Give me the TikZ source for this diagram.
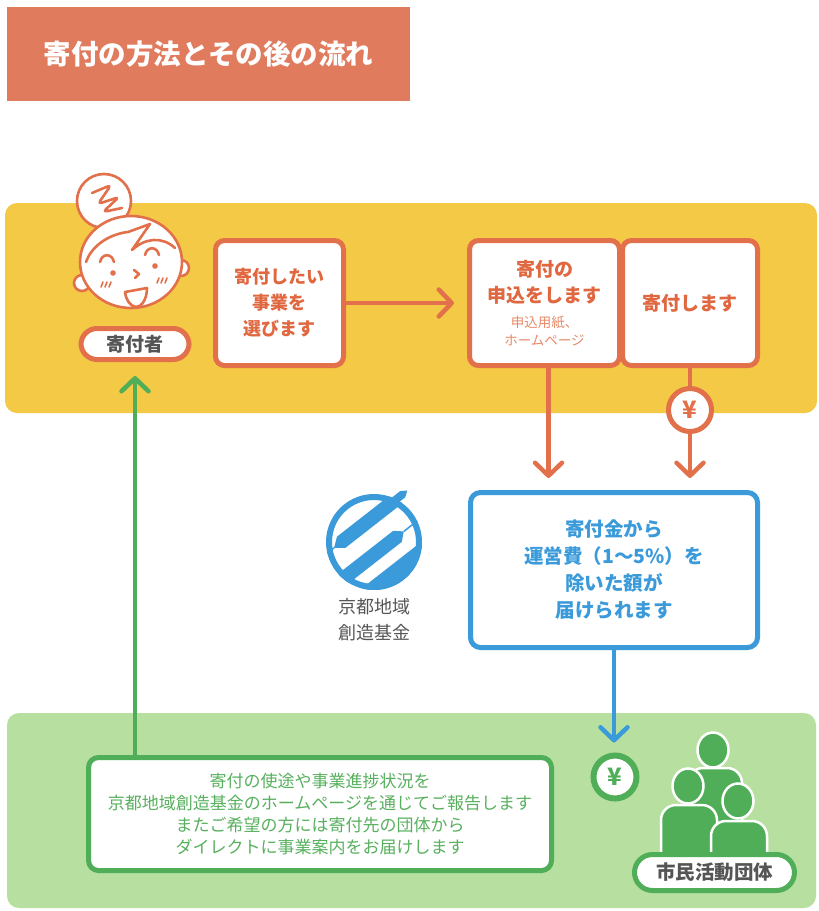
\documentclass[tikz,border=0pt]{standalone}
\usepackage{fontspec}
\setmainfont{Noto Sans CJK JP}
\usetikzlibrary{arrows.meta,calc}

\definecolor{titlebg}{HTML}{E17B5E}
\definecolor{bandY}{HTML}{F4C945}
\definecolor{ora}{HTML}{E2704B}
\definecolor{oratext}{HTML}{E0673F}
\definecolor{orasoft}{HTML}{E88A6A}
\definecolor{blu}{HTML}{3A9ADA}
\definecolor{bandG}{HTML}{B7E0A0}
\definecolor{grn}{HTML}{4FAE57}
\definecolor{grntext}{HTML}{58B05E}
\definecolor{gry}{HTML}{555555}

% small note lines inside the application box
\newcommand\notefont{\fontsize{13.5}{17}\selectfont\mdseries\color{orasoft}}

\begin{document}
\begin{tikzpicture}[x=1pt,y=-1pt,
  obox/.style={draw=ora, line width=5pt, fill=white, rounded corners=9pt,
    align=center, inner sep=0pt, text=oratext,
    font=\bfseries\fontsize{19}{26}\selectfont},
  pill/.style={fill=white, line width=5pt, rounded corners=16pt, inner sep=0pt,
    text=gry, font=\bfseries\fontsize{19}{22}\selectfont},
  yen/.style={circle, fill=white, line width=5pt, minimum size=43pt,
    inner sep=0pt, font=\bfseries\fontsize{24}{24}\selectfont},
  tipV/.style={-{Straight Barb[length=13pt,width=27pt,round]}},
  oarrow/.style={draw=ora, line width=4.5pt, tipV},
  barrow/.style={draw=blu, line width=4.5pt, tipV},
  garrow/.style={draw=grn, line width=4.5pt, tipV},
]
\useasboundingbox (0,0) rectangle (819,911);
\fill[white] (0,0) rectangle (819,911);

% heading
\node[fill=titlebg, minimum width=403pt, minimum height=94pt, inner sep=0pt,
  text=white, font=\bfseries\fontsize{27.5}{30}\selectfont] (title) at (208.5,54)
  {寄付の方法とその後の流れ};

% coloured bands
\fill[bandY, rounded corners=12pt] (5,203) rectangle (817,413);
\fill[bandG, rounded corners=12pt] (7,713) rectangle (816,908);

% donor face
\begin{scope}[draw=ora, line width=2.6pt, line cap=round, line join=round]
  \filldraw[fill=white] (104,201) circle (27);
  \draw[rounded corners=4pt] (92,193) -- (111,185) -- (98,204) -- (119,197) -- (103,212) -- (122,208);
  \filldraw[fill=white] (82,283) circle (8);
  \filldraw[fill=white] (181,268) circle (8);
  \filldraw[fill=white] (131,262) ellipse (51 and 46);
  \draw (86,262) .. controls (92,245) and (110,234) .. (128,232) -- (150,224)
        -- (132,250) .. controls (145,238) and (162,236) .. (175,248);
  \draw (100,262) .. controls (102,253) and (112,253) .. (114,262);
  \draw (145,255) .. controls (147,246) and (157,246) .. (159,255);
  \fill[ora] (113,273) circle (2.8);
  \fill[ora] (155,266) circle (2.8);
  \draw (134,270) -- (139,274) -- (135,278);
  \filldraw[fill=white] (125,292) -- (147,288)
        .. controls (147,300) and (141,307) .. (136,307)
        .. controls (130,306) and (126,300) .. (125,292) -- cycle;
  \draw[line width=1.6pt] (101,287)--(103,282) (105,287)--(107,282) (109,287)--(111,282);
  \draw[line width=1.6pt] (157,283)--(159,278) (161,283)--(163,278) (165,283)--(167,278);
\end{scope}

\node[pill, draw=ora, minimum width=108pt, minimum height=31pt] (donor) at (135,344) {寄付者};

% steps of the donation
\node[obox, minimum width=128pt, minimum height=125pt,
  font=\bfseries\fontsize{18}{26}\selectfont] (choose) at (279.5,303)
  {寄付したい\\事業を\\選びます};
\node[obox, minimum width=150pt, minimum height=125pt] (apply) at (544.5,303)
  {寄付の\\申込をします\\[-1pt]{\notefont 申込用紙、}\\[-8pt]{\notefont ホームページ}};
\node[obox, minimum width=135pt, minimum height=125pt] (give) at (690,303) {寄付します};

\node[yen, draw=ora, text=ora] (yo) at (690,410) {¥};

% foundation box
\node[draw=blu, line width=5pt, fill=white, rounded corners=10pt,
  minimum width=287pt, minimum height=155pt, align=center, text=blu,
  font=\bfseries\fontsize{19.5}{27}\selectfont] (net) at (614,570)
  {寄付金から\\運営費（1～5\%）を\\除いた額が\\届けられます};

% foundation emblem
\begin{scope}[shift={(374,542)}, rotate=38]
  \draw[blu, line width=6pt] (0,0) circle (45);
  \begin{scope}
    \clip (0,0) circle (48);
    \fill[blu] (-35,-20) -- (-26,-27) -- (60,-27) -- (60,-13) -- (-26,-13) -- cycle;
    \draw[blu, line width=1.5pt] (-35,-20) -- (-50,-20);
    \fill[blu] (-50,3) -- (22,3) -- (30,10) -- (22,17) -- (-50,17) -- cycle;
    \draw[blu, line width=1.5pt] (30,10) -- (50,10);
    \fill[blu] (-50,29) rectangle (50,50);
  \end{scope}
  \fill[blu] (38,-24) -- (52,-24) -- (58,-20) -- (52,-16) -- (38,-16) -- cycle;
\end{scope}
\node[text=gry, align=center, font=\fontsize{18}{26}\selectfont] (fund) at (374,620)
  {京都地域\\創造基金};

% citizen groups
\begin{scope}[fill=grn, draw=white, line width=2.5pt]
  \filldraw[rounded corners=15pt] (688,862) -- (688,768) -- (742,768) -- (742,862);
  \filldraw (713,750) ellipse (15.5 and 17.5);
  \filldraw[rounded corners=15pt] (661,862) -- (661,805) -- (717,805) -- (717,862);
  \filldraw (688,786) ellipse (15.5 and 17.5);
  \filldraw[rounded corners=15pt] (711,862) -- (711,821) -- (767,821) -- (767,862);
  \filldraw (738,801) ellipse (15.5 and 17.5);
\end{scope}
\node[pill, draw=grn, rounded corners=18pt, minimum width=160pt, minimum height=36pt,
  font=\bfseries\fontsize{19.5}{22}\selectfont] (group) at (714.5,872.5) {市民活動団体};

\node[yen, draw=grn, text=grn, line width=6pt] (yg) at (615,777) {¥};

% report box
\node[draw=grn, line width=5pt, fill=white, rounded corners=10pt,
  minimum width=463pt, minimum height=113pt, align=center, text=grntext,
  font=\fontsize{17}{22}\selectfont] (report) at (320,814)
  {寄付の使途や事業進捗状況を\\京都地域創造基金のホームページを通じてご報告します\\またご希望の方には寄付先の団体から\\ダイレクトに事業案内をお届けします};

% connectors
\draw[oarrow, shorten >=13pt] (choose.east) -- (apply.west);
\draw[oarrow, shorten >=12pt] ([xshift=4pt]apply.south) -- ([xshift=4pt]apply.south |- net.north);
\draw[draw=ora, line width=4.5pt] (give.south) -- (yo.north);
\draw[oarrow, shorten >=12pt] (yo.south) -- (yo.south |- net.north);
\draw[barrow, shorten >=10pt] (net.south) -- (net.south |- yg.north);
\draw[garrow, shorten >=14pt] (donor.south |- report.north) -- (donor.south);
\end{tikzpicture}
\end{document}
